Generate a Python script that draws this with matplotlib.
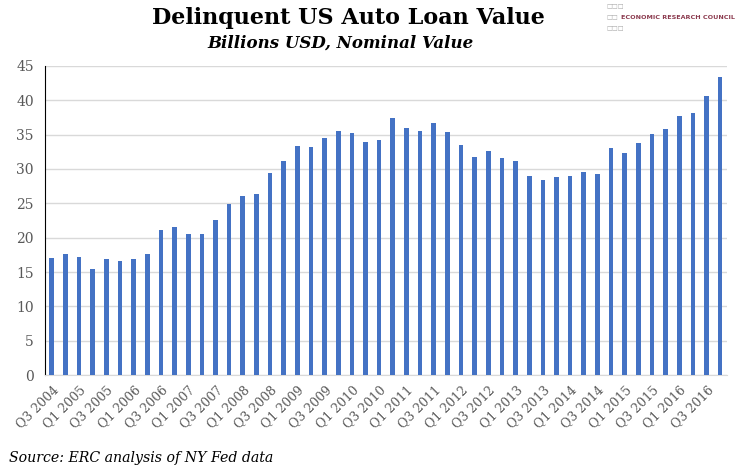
import numpy as np
import matplotlib
matplotlib.use("Agg")
import matplotlib.pyplot as plt

# quarterly delinquent auto loan balance, Q3 2004 .. Q4 2016 (billions USD)
quarters = [f"Q{q} {y}" for y in range(2004, 2017) for q in (1, 2, 3, 4)][2:]
values = [17.0, 17.6, 17.2, 15.4, 16.9, 16.6, 16.9, 17.6,
          21.1, 21.6, 20.5, 20.5, 22.6, 24.9, 26.1, 26.4,
          29.4, 31.2, 33.4, 33.2, 34.5, 35.5, 35.2, 33.9,
          34.2, 37.4, 36.0, 35.5, 36.7, 35.4, 33.5, 31.8,
          32.6, 31.6, 31.2, 29.0, 28.4, 28.8, 29.0, 29.6,
          29.3, 33.1, 32.3, 33.8, 35.1, 35.8, 37.7, 38.2,
          40.6, 43.4]
yticks = list(range(0, 50, 5))

plt.rcParams['font.family'] = ['DejaVu Serif']

fig = plt.figure(figsize=(7.46, 4.71), dpi=100)
ax = fig.add_axes([0.0603, 0.2038, 0.9142, 0.6561])

x = np.arange(len(values))
ax.bar(x, values, width=0.34, color='#4472C4', zorder=3)

ax.set_xlim(-0.5, len(values) - 0.5)
ax.set_ylim(0, 45)
ax.set_yticks(yticks)
ax.yaxis.grid(True, color='#D9D9D9', linewidth=1, zorder=0)
ax.set_xticks(x[::2])
ax.set_xticklabels(quarters[::2], rotation=45, ha='right', rotation_mode='anchor')
ax.tick_params(axis='x', length=0, labelsize=9, labelcolor='#595959', pad=6)
ax.tick_params(axis='y', length=0, labelsize=10, labelcolor='#595959', pad=8)

for s in ('top', 'right'):
    ax.spines[s].set_visible(False)
ax.spines['left'].set_color('black')
ax.spines['bottom'].set_color('#D9D9D9')

fig.text(0.467, 0.962, "Delinquent US Auto Loan Value", ha='center', va='center',
         fontsize=16, fontweight='bold')
fig.text(0.456, 0.908, "Billions USD, Nominal Value", ha='center', va='center',
         fontsize=12, fontweight='bold', style='italic')
fig.text(0.012, 0.028, "Source: ERC analysis of NY Fed data", ha='left', va='center',
         fontsize=10.2, style='italic')

# logo
sq = dict(ha='left', va='center', fontsize=4.5, color='#A8A8A8', family='DejaVu Sans')
fig.text(0.813, 0.985, "\u25a1\u25a1\u25a1", **sq)
fig.text(0.813, 0.962, "\u25a1\u25a1", **sq)
fig.text(0.813, 0.939, "\u25a1\u25a1\u25a1", **sq)
fig.text(0.833, 0.962, "ECONOMIC RESEARCH COUNCIL", ha='left', va='center', fontsize=4.6,
         fontweight='bold', color='#8C3B4F', family='DejaVu Sans')

fig.savefig("out.png", dpi=100)
